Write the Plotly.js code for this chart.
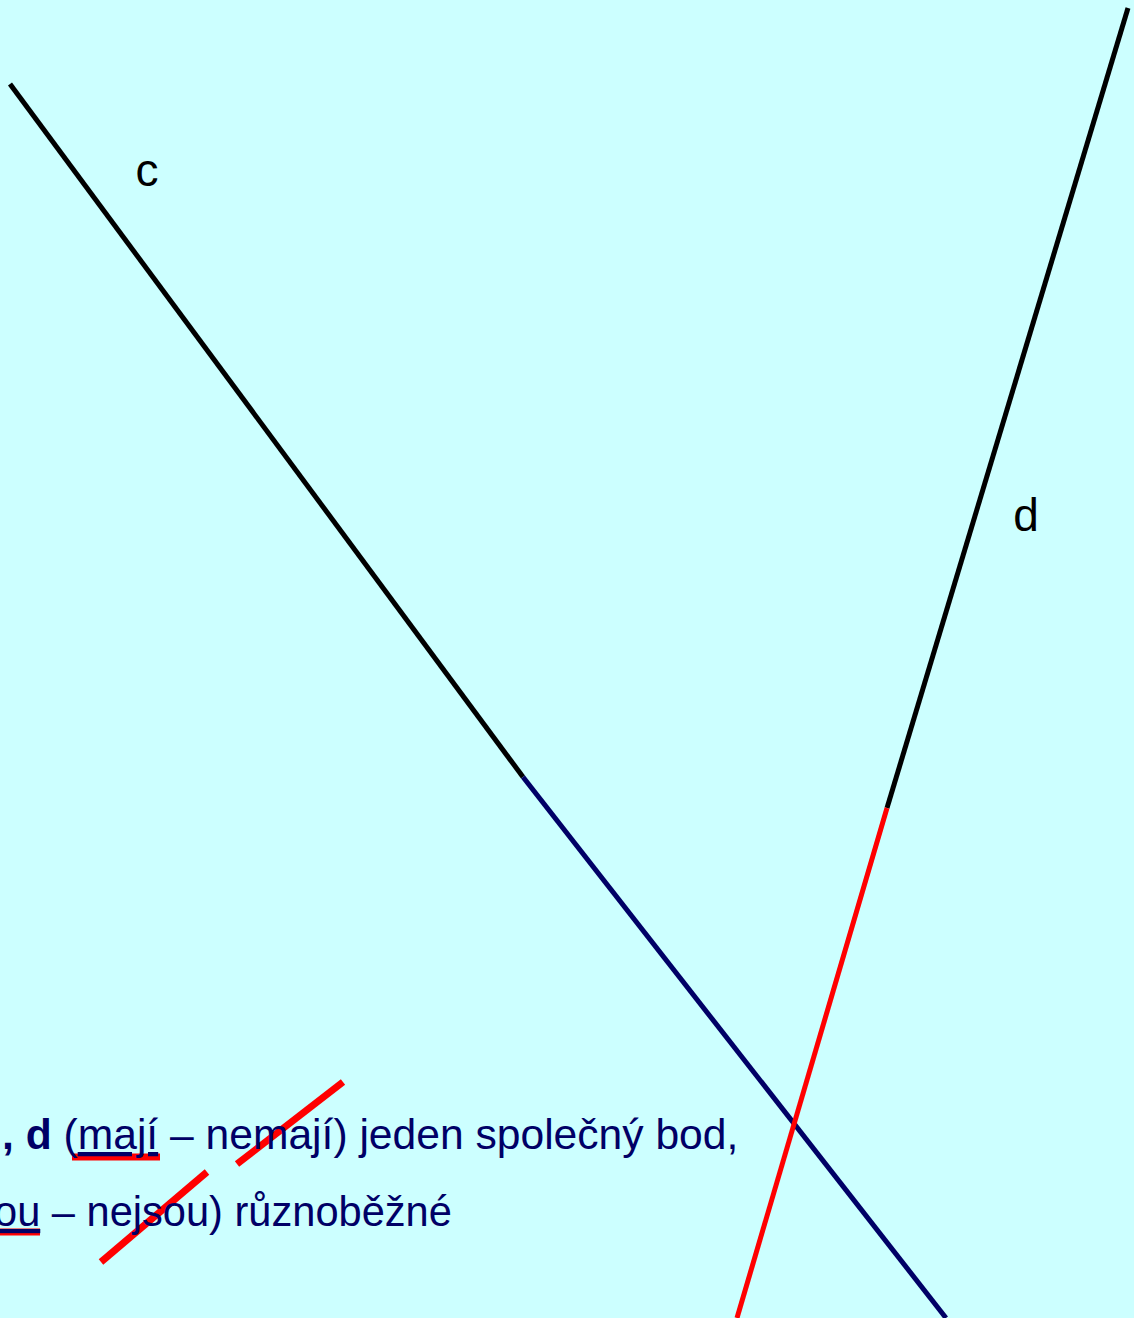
<!DOCTYPE html>
<html>
<head>
<meta charset="utf-8">
<script src="https://cdn.plot.ly/plotly-3.0.1.min.js"></script>
<style>html,body{margin:0;padding:0;background:#ccffff;}#plot{width:1134px;height:1318px;}</style>
</head>
<body>
<div id="plot"></div>
<script>
// line c (black part, then navy part)
const cBlackX = [10, 523];
const cBlackY = [84, 777];
const cNavyX = [523, 946];
const cNavyY = [777, 1318];
// line d (black part, then red part)
const dBlackX = [1128, 887];
const dBlackY = [8, 808];
const dRedX = [887, 737];
const dRedY = [808, 1318];
// red correction marks
const under1X = [72, 160];
const under1Y = [1157, 1157];
const under2X = [0, 40];
const under2Y = [1232, 1232];
const slash1X = [237, 343];
const slash1Y = [1164, 1082];
const slash2X = [101, 207];
const slash2Y = [1262, 1172];
// labels
const labelText = ['c', 'd'];
const labelX = [147, 1026];
const labelY = [174, 519];
const line1 = '<b>, d</b> (<u>mají</u> – nemají) jeden společný bod,';
const line2 = '<u>ou</u> – nejsou) různoběžné';

function seg(x, y, color, w) {
  return {x: x, y: y, type: 'scatter', mode: 'lines', line: {color: color, width: w}, hoverinfo: 'skip', showlegend: false};
}
const traces = [
  seg(cBlackX, cBlackY, '#000000', 5),
  seg(cNavyX, cNavyY, '#000066', 5),
  seg(dBlackX, dBlackY, '#000000', 5),
  seg(dRedX, dRedY, '#ff0000', 5),
  seg(under1X, under1Y, '#ff0000', 7),
  seg(under2X, under2Y, '#ff0000', 7),
  seg(slash1X, slash1Y, '#ff0000', 7),
  seg(slash2X, slash2Y, '#ff0000', 7),
  {x: labelX, y: labelY, text: labelText, type: 'scatter', mode: 'text', textposition: 'middle center',
   textfont: {family: 'Liberation Sans, Arial, sans-serif', size: 46, color: '#000000'}, hoverinfo: 'skip', showlegend: false}
];
const layout = {
  width: 1134, height: 1318,
  margin: {l: 0, r: 0, t: 0, b: 0, pad: 0},
  paper_bgcolor: '#ccffff', plot_bgcolor: '#ccffff',
  xaxis: {range: [0, 1134], visible: false, fixedrange: true},
  yaxis: {range: [1318, 0], visible: false, fixedrange: true},
  annotations: [
    {x: 0, y: 1134, xref: 'x', yref: 'y', xanchor: 'left', yanchor: 'middle', text: line1, showarrow: false,
     font: {family: 'Liberation Sans, Arial, sans-serif', size: 42.6, color: '#000066'}},
    {x: 0, y: 1211, xshift: -8, xref: 'x', yref: 'y', xanchor: 'left', yanchor: 'middle', text: line2, showarrow: false,
     font: {family: 'Liberation Sans, Arial, sans-serif', size: 41.6, color: '#000066'}}
  ]
};
Plotly.newPlot('plot', traces, layout, {staticPlot: true, displayModeBar: false});
</script>
</body>
</html>
